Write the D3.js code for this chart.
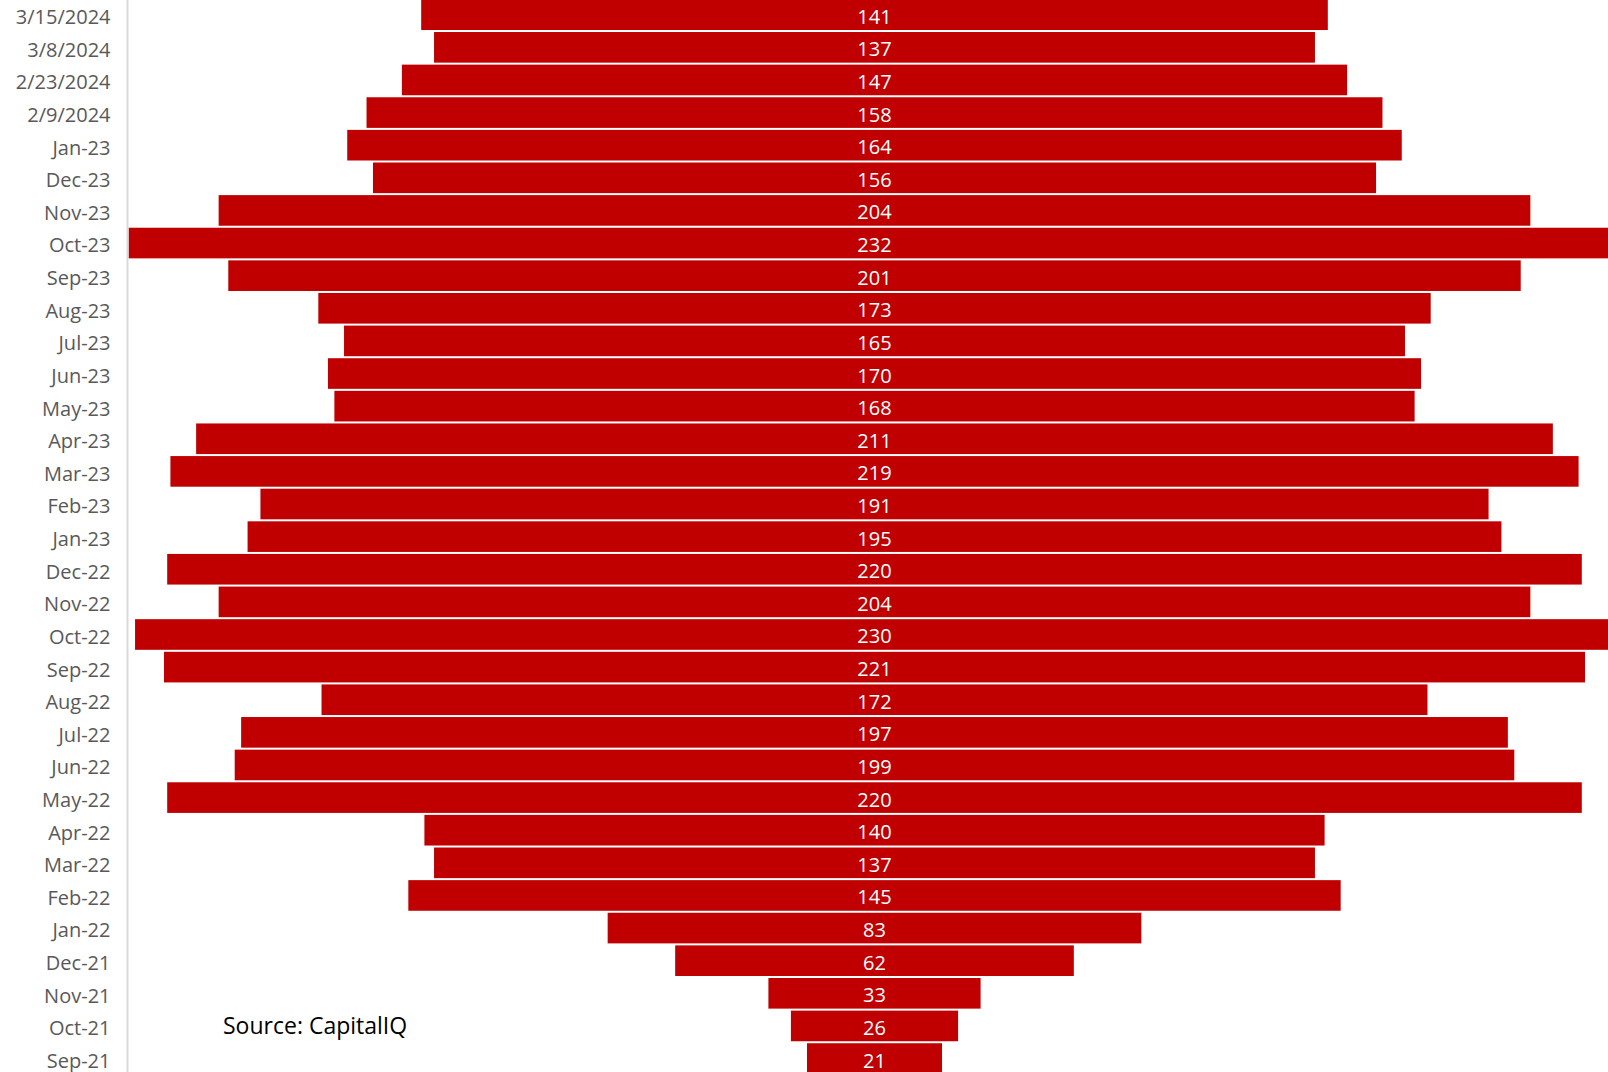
<!DOCTYPE html>
<html lang="en">
<head>
  <meta charset="UTF-8">
  <title>Centered bar chart - CapitalIQ</title>
  <script src="https://d3js.org/d3.v7.min.js"></script>
  <style>
    body {
      margin: 0;
      background: #fff;
      font-family: "Open Sans", "Noto Sans", Arial, sans-serif;
      overflow: hidden;
    }
    .axis text {
      fill: #595959;
      font-family: "Open Sans", "Noto Sans", Arial, sans-serif;
      font-size: 20px;
    }
    .axis path {
      stroke: #d9d9d9;
      stroke-width: 2;
    }
  </style>
</head>
<body>
  <div id="chart"></div>
  <script>
    // Periods, top to bottom (labels as shown in the original)
    const periods = [
      "3/15/2024", "3/8/2024", "2/23/2024", "2/9/2024", "Jan-23", "Dec-23",
      "Nov-23", "Oct-23", "Sep-23", "Aug-23", "Jul-23", "Jun-23", "May-23",
      "Apr-23", "Mar-23", "Feb-23", "Jan-23", "Dec-22", "Nov-22", "Oct-22",
      "Sep-22", "Aug-22", "Jul-22", "Jun-22", "May-22", "Apr-22", "Mar-22",
      "Feb-22", "Jan-22", "Dec-21", "Nov-21", "Oct-21", "Sep-21"
    ];
    const counts = [
      141, 137, 147, 158, 164, 156,
      204, 232, 201, 173, 165, 170, 168,
      211, 219, 191, 195, 220, 204, 230,
      221, 172, 197, 199, 220, 140, 137,
      145, 83, 62, 33, 26, 21
    ];
    const sourceNote = "Source: CapitalIQ";

    const W = 1608, H = 1072;
    const cx = 874.5;       // centre line of the bars
    const unit = 6.43;      // pixels per count
    const step = 32.62;     // row pitch

    const data = periods.map((p, i) => ({ i: i, label: p, value: counts[i] }));

    const svg = d3.select("#chart").append("svg")
      .attr("width", W)
      .attr("height", H);

    const y = d3.scaleBand()
      .domain(data.map(d => d.i))
      .range([-1.6, -1.6 + periods.length * step])
      .paddingInner(0.061)
      .paddingOuter(0.0305);

    const half = d3.max(counts) / 2;
    const x = d3.scaleLinear()
      .domain([-half, half])
      .range([cx - half * unit, cx + half * unit]);

    // Bars, centred on zero
    svg.append("g")
      .selectAll("rect")
      .data(data)
      .join("rect")
      .attr("x", d => x(-d.value / 2))
      .attr("y", d => y(d.i))
      .attr("width", d => x(d.value / 2) - x(-d.value / 2))
      .attr("height", y.bandwidth())
      .attr("fill", "#c00000");

    // Value labels
    svg.append("g")
      .selectAll("text")
      .data(data)
      .join("text")
      .attr("x", x(0))
      .attr("y", d => y(d.i) + y.bandwidth() / 2)
      .attr("dy", "0.45em")
      .attr("text-anchor", "middle")
      .attr("fill", "#ffffff")
      .style("font-size", "20px")
      .text(d => d.value);

    // Category axis
    svg.append("g")
      .attr("class", "axis")
      .attr("transform", "translate(127.5,0)")
      .call(d3.axisLeft(y).tickSize(0).tickPadding(17).tickFormat(i => periods[i]))
      .call(g => g.attr("font-family", null).attr("font-size", null))
      .call(g => g.selectAll("text").attr("dy", "0.47em"));

    svg.select(".axis .domain").attr("d", `M0,0V${H}`);

    // Source note
    svg.append("text")
      .attr("x", 223)
      .attr("y", 1034)
      .attr("fill", "#000")
      .style("font-size", "23px")
      .text(sourceNote);
  </script>
</body>
</html>
